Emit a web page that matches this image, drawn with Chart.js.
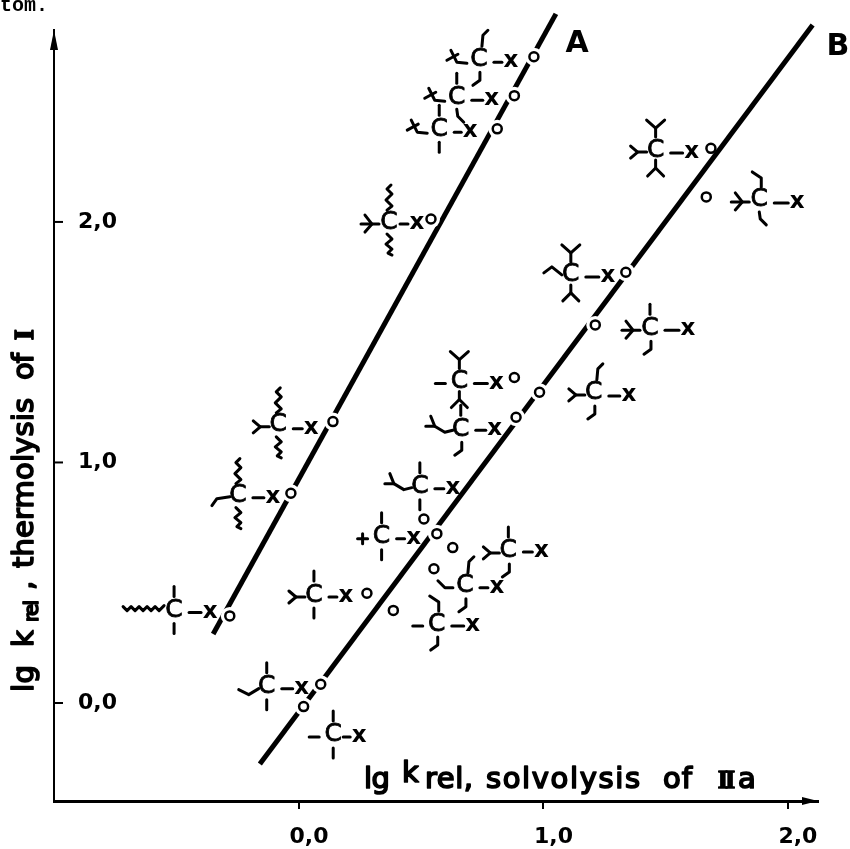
<!DOCTYPE html>
<html>
<head>
<meta charset="utf-8">
<title>lg k rel thermolysis vs solvolysis</title>
<script src="https://cdn.jsdelivr.net/npm/chart.js@4"></script>
<style>
    html, body { margin: 0; padding: 0; background: #fff; }
    canvas { display: block; }
</style>
</head>
<body>
<canvas id="chart" width="850" height="849"></canvas>
<script>
// values
const xTicks = [0, 1, 2];
const yTicks = [0, 1, 2];
const xTickLabels = ['0,0', '1,0', '2,0'];
const yTickLabels = ['0,0', '1,0', '2,0'];

const pointsAX = [-0.283, -0.033, 0.139, 0.540, 0.811, 0.881, 0.961];
const pointsAY = [0.362, 0.872, 1.170, 2.012, 2.387, 2.525, 2.687];
const lineAX = [-0.351, 1.051];
const lineAY = [0.287, 2.865];

const pointsBX = [0.019, 0.089, 0.386, 0.278, 0.511, 0.552, 0.564, 0.629, 0.888, 0.984, 0.881, 1.212, 1.337, 1.666, 1.685];
const pointsBY = [-0.015, 0.078, 0.385, 0.456, 0.765, 0.558, 0.704, 0.646, 1.188, 1.292, 1.353, 1.572, 1.791, 2.104, 2.306];
const lineBX = [-0.160, 2.101];
const lineBY = [-0.254, 2.819];

// points of B that sit on the line, the line is broken around them
const onLineB = [true, true, false, false, false, false, true, false, true, true, false, true, true, false, false];

// hand drawn bits of the formula labels, offsets from the centre of the C
const bits = {
    me_t: [[[0, -24], [0, -14]]],
    me_b: [[[0, 13], [0, 23]]],
    hookR_t: [[[9, -29], [4, -24], [3, -13]]],
    hookL_t: [[[-7, -28], [2, -22], [2, -13]]],
    hookL_b: [[[1, 13], [1, 21], [-6, 26]]],
    hookR_b: [[[0, 12], [1, 19], [7, 25]]],
    y_t: [[[-9, -30], [0, -22], [9, -30]], [[0, -22], [0, -13]]],
    y_b: [[[0, 10], [0, 18]], [[-8, 26], [0, 18], [8, 26]]],
    wig_t: [[[-2, -12], [3, -16], [-3, -22], [3, -28], [-2, -33], [2, -37]]],
    wig_b: [[[-2, 12], [3, 17], [-3, 22], [3, 27], [-1, 31], [3, 33]]],
    me_l: [[[-24, 2], [-14, 2]]],
    plus_l: [[[-24, 2], [-14, 2]], [[-19, -3], [-19, 7]]],
    ipr_l: [[[-25, -4], [-18, 2], [-25, 8]], [[-18, 2], [-9, 2]]],
    arrow_l: [[[-28, 2], [-10, 2]], [[-24, -7], [-17, 2], [-24, 10]]],
    et_l: [[[-28, 3], [-18, 8], [-8, 2]]],
    et2_l: [[[-26, 10], [-21, 3], [-8, 1]]],
    et3_l: [[[-27, -5], [-20, 2], [-12, 2]]],
    prop_l: [[[-27, -2], [-19, -8], [-9, 0]]],
    cross_l: [[[-28, -9], [-22, 3], [-12, 4]], [[-32, 1], [-21, -5]]],
    ibu_l: [[[-35, -3], [-26, -3], [-16, 3], [-8, 1]], [[-26, -3], [-30, -13]]],
    wig_l: [[[-51, -4], [-47, 0], [-43, -4], [-39, 0], [-35, -4], [-31, 0], [-27, -4], [-23, 0], [-19, -4], [-15, 0], [-10, -5]]]
};

// where each formula sits against its point: d = C from point, xd/xy = the x from the C
const labelsA = [
    { d: [-55.7, -5.3], xd: 36, xy: 2, parts: ['me_t', 'me_b', 'wig_l'] },
    { d: [-53, 2.4], xd: 35, xy: 2, parts: ['wig_t', 'wig_b', 'et2_l'] },
    { d: [-54.7, 3.3], xd: 33, xy: 4, parts: ['wig_t', 'wig_b', 'ipr_l'] },
    { d: [-42, 3], xd: 28, xy: 2, ds: 11, parts: ['wig_t', 'wig_b', 'arrow_l'] },
    { d: [-58, 0.3], xd: 31, xy: 3, parts: ['me_t', 'me_b', 'cross_l'] },
    { d: [-57.6, 1.6], xd: 35, xy: 3, parts: ['me_t', 'hookR_b', 'cross_l'] },
    { d: [-55, 2.6], xd: 32, xy: 3, parts: ['hookR_t', 'hookL_b', 'cross_l'] }
];
const labelsB = [
    { d: [29.6, 28.3], xd: 26, xy: 2, ds: 10, parts: ['me_t', 'me_b', 'me_l'] },
    { d: [-54, 2.4], xd: 35, xy: 2, parts: ['me_t', 'me_b', 'et_l'] },
    { d: [43.4, 13.7], xd: 36, xy: 2, parts: ['hookL_t', 'hookL_b', 'me_l'] },
    { d: [-53, 1.7], xd: 32, xy: 2, parts: ['me_t', 'me_b', 'ipr_l'] },
    { d: [-42.3, 17.7], xd: 32, xy: 2, parts: ['me_t', 'me_b', 'plus_l'] },
    { d: [31, 17], xd: 32, xy: 2, parts: ['hookR_t', 'hookL_b', 'et3_l'] },
    { d: [-17, -47], xd: 33, xy: 2, parts: ['me_t', 'me_b', 'ibu_l'] },
    { d: [55.6, 3.3], xd: 33, xy: 1, parts: ['me_t', 'hookL_b', 'ipr_l'] },
    { d: [-55.3, 12], xd: 34, xy: 1, parts: ['me_t', 'hookL_b', 'ibu_l'] },
    { d: [54.3, 0.7], xd: 35, xy: 3, parts: ['hookR_t', 'hookL_b', 'ipr_l'] },
    { d: [-55, 4], xd: 37, xy: 2, parts: ['y_t', 'y_b', 'me_l'] },
    { d: [54.7, 3.3], xd: 38, xy: 2, parts: ['me_t', 'hookL_b', 'arrow_l'] },
    { d: [-55, 2.7], xd: 37, xy: 2, parts: ['y_t', 'y_b', 'prop_l'] },
    { d: [53, 3], xd: 38, xy: 3, parts: ['hookL_t', 'hookR_b', 'arrow_l'] },
    { d: [-55.3, 1.7], xd: 36, xy: 3, parts: ['y_t', 'y_b', 'ipr_l'] }
];

const toXY = (xs, ys) => xs.map((x, i) => ({ x: x, y: ys[i] }));
const titleFont = '29px "DejaVu Sans"';

// text squeezed or stretched so it runs from a to b, stroked a bit to get the stencil weight
function fitText(ctx, text, font, a, b, base) {
    ctx.font = font;
    ctx.letterSpacing = '0px';
    const w = ctx.measureText(text).width;
    ctx.letterSpacing = ((b - a - w) / Math.max(text.length - 1, 1)) + 'px';
    ctx.lineWidth = 1.7;
    ctx.lineJoin = 'round';
    ctx.fillText(text, a, base);
    ctx.strokeText(text, a, base);
    ctx.letterSpacing = '0px';
}

function drawFormula(ctx, cx, cy, label) {
    ctx.lineWidth = 3;
    ctx.lineCap = 'round';
    ctx.lineJoin = 'round';
    label.parts.forEach((name) => {
        bits[name].forEach((line) => {
            ctx.beginPath();
            line.forEach((p, i) => {
                if (i === 0) ctx.moveTo(cx + p[0], cy + p[1]);
                else ctx.lineTo(cx + p[0], cy + p[1]);
            });
            ctx.stroke();
        });
    });
    ctx.beginPath();
    ctx.moveTo(cx + (label.ds || 15), cy + label.xy);
    ctx.lineTo(cx + label.xd - 9, cy + label.xy);
    ctx.stroke();
    ctx.textAlign = 'center';
    ctx.textBaseline = 'middle';
    ctx.font = '25px "DejaVu Sans"';
    ctx.lineWidth = 0.8;
    ctx.fillText('C', cx, cy);
    ctx.strokeText('C', cx, cy);
    ctx.font = 'bold 23px "DejaVu Sans"';
    ctx.fillText('x', cx + label.xd, cy + label.xy - 1);
}

const extras = {
    id: 'extras',
    afterDatasetsDraw(chart) {
        const ctx = chart.ctx;
        const sx = chart.scales.x;
        const sy = chart.scales.y;
        const area = chart.chartArea;
        ctx.save();
        ctx.fillStyle = '#000';
        ctx.strokeStyle = '#000';

        // arrow heads
        ctx.beginPath();
        ctx.moveTo(area.left, area.top);
        ctx.lineTo(area.left - 4, area.top + 20);
        ctx.lineTo(area.left + 4, area.top + 20);
        ctx.closePath();
        ctx.fill();
        ctx.beginPath();
        ctx.moveTo(area.right, area.bottom);
        ctx.lineTo(area.right - 16, area.bottom - 4);
        ctx.lineTo(area.right - 16, area.bottom + 4);
        ctx.closePath();
        ctx.fill();

        // y ticks point inwards
        ctx.lineWidth = 2;
        yTicks.forEach((v) => {
            const py = sy.getPixelForValue(v);
            ctx.beginPath();
            ctx.moveTo(area.left, py);
            ctx.lineTo(area.left + 9, py);
            ctx.stroke();
        });

        // formulas next to the points
        labelsA.forEach((l, i) => {
            drawFormula(ctx, sx.getPixelForValue(pointsAX[i]) + l.d[0], sy.getPixelForValue(pointsAY[i]) + l.d[1], l);
        });
        labelsB.forEach((l, i) => {
            drawFormula(ctx, sx.getPixelForValue(pointsBX[i]) + l.d[0], sy.getPixelForValue(pointsBY[i]) + l.d[1], l);
        });

        // line names
        ctx.textAlign = 'center';
        ctx.textBaseline = 'alphabetic';
        ctx.font = 'bold 30px "DejaVu Sans"';
        ctx.fillText('A', 577, 52);
        ctx.fillText('B', 838, 55);

        ctx.textAlign = 'left';
        // scrap of the caption above the figure
        ctx.font = 'bold 20px "Liberation Mono"';
        ctx.fillText('tom.', 0, 11);

        // x axis title
        const base = 788;
        fitText(ctx, 'lg', titleFont, 364, 390, base);
        fitText(ctx, 'k', titleFont, 402, 417, 782);
        fitText(ctx, 'rel,', titleFont, 425, 473, base);
        fitText(ctx, 'solvolysis', titleFont, 486, 640, base);
        fitText(ctx, 'of', titleFont, 663, 692, base);
        fitText(ctx, 'II', 'bold 25px "Liberation Serif"', 718, 735, base);
        fitText(ctx, 'a', titleFont, 738, 758, base);

        // y axis title, turned
        ctx.save();
        ctx.translate(33, 0);
        ctx.rotate(-Math.PI / 2);
        fitText(ctx, 'lg', titleFont, -692, -665, 0);
        fitText(ctx, 'k', titleFont, -647, -631, 0);
        fitText(ctx, 'rel', '20px "DejaVu Sans"', -622, -600, 5);
        fitText(ctx, ',', titleFont, -590, -584, 0);
        fitText(ctx, 'thermolysis', titleFont, -568, -398, 0);
        fitText(ctx, 'of', titleFont, -380, -353, 0);
        fitText(ctx, 'I', 'bold 27px "Liberation Serif"', -340, -328, 0);
        ctx.restore();
        ctx.restore();
    }
};

new Chart(document.getElementById('chart').getContext('2d'), {
    type: 'scatter',
    data: {
        datasets: [
            { label: 'A', data: toXY(pointsAX, pointsAY), order: 1, pointRadius: 4.5, pointBorderWidth: 2.5, pointBorderColor: '#000', pointBackgroundColor: '#fff' },
            { label: 'B', data: toXY(pointsBX, pointsBY), order: 1, pointRadius: 4.5, pointBorderWidth: 2.5, pointBorderColor: '#000', pointBackgroundColor: '#fff' },
            { label: 'gap A', data: toXY(pointsAX, pointsAY), order: 2, pointRadius: 9, pointBorderWidth: 0, pointBackgroundColor: '#fff' },
            { label: 'gap B', data: toXY(pointsBX, pointsBY), order: 2, pointRadius: onLineB.map((on) => on ? 9 : 0), pointBorderWidth: 0, pointBackgroundColor: '#fff' },
            { label: 'line A', data: toXY(lineAX, lineAY), order: 3, showLine: true, clip: false, pointRadius: 0, borderColor: '#000', borderWidth: 5 },
            { label: 'line B', data: toXY(lineBX, lineBY), order: 3, showLine: true, clip: false, pointRadius: 0, borderColor: '#000', borderWidth: 5 }
        ]
    },
    options: {
        responsive: false,
        animation: false,
        layout: { padding: { top: 30, right: 32 } },
        plugins: { legend: { display: false }, title: { display: false }, tooltip: { enabled: false } },
        scales: {
            x: {
                type: 'linear',
                min: -1.002,
                max: 2.123,
                afterFit: (s) => { s.height = 48; s.paddingLeft = 0; s.paddingRight = 0; },
                afterBuildTicks: (s) => { s.ticks = xTicks.map((v) => ({ value: v })); },
                border: { color: '#000', width: 3 },
                grid: { drawOnChartArea: false, color: '#000', lineWidth: 2, tickLength: 8 },
                ticks: {
                    color: '#000',
                    font: { family: 'DejaVu Sans', size: 22, weight: 'bold' },
                    padding: 15,
                    maxRotation: 0,
                    labelOffset: 10,
                    callback: (v) => xTickLabels[xTicks.indexOf(v)]
                }
            },
            y: {
                type: 'linear',
                min: -0.4075,
                max: 2.798,
                afterFit: (s) => { s.width = 54; s.paddingTop = 0; s.paddingBottom = 0; },
                afterBuildTicks: (s) => { s.ticks = yTicks.map((v) => ({ value: v })); },
                border: { color: '#000', width: 2 },
                grid: { drawOnChartArea: false, drawTicks: false },
                ticks: {
                    color: '#000',
                    mirror: true,
                    font: { family: 'DejaVu Sans', size: 22, weight: 'bold' },
                    padding: 24,
                    callback: (v) => yTickLabels[yTicks.indexOf(v)]
                }
            }
        }
    },
    plugins: [extras]
});
</script>
</body>
</html>
